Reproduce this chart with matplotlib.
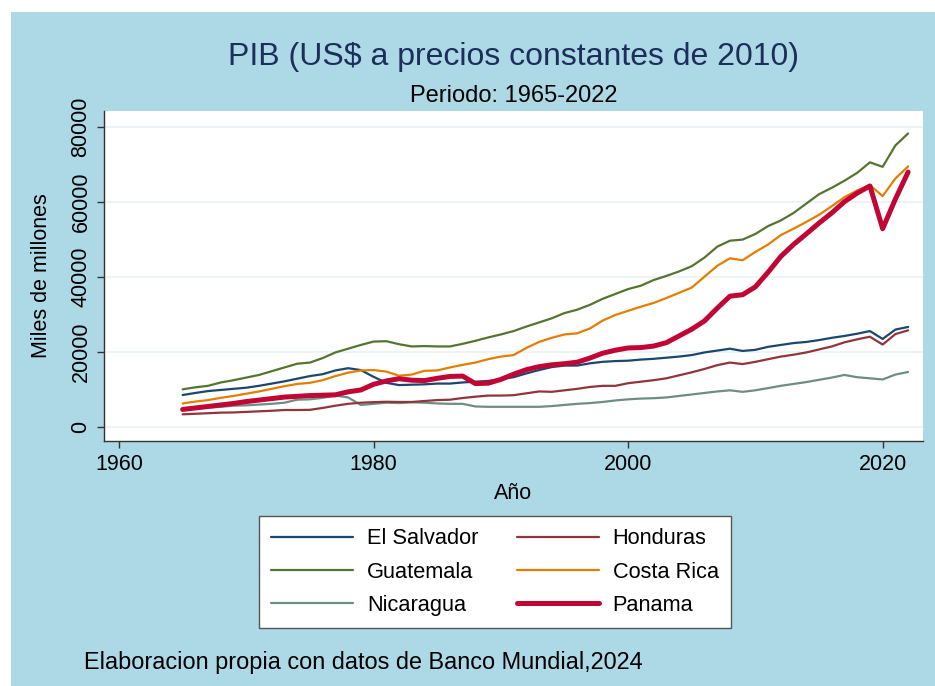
import matplotlib
matplotlib.use("Agg")
import matplotlib.pyplot as plt
from matplotlib.patches import Rectangle

plt.rcParams['font.family'] = ['Liberation Sans', 'DejaVu Sans']

years = list(range(1965, 2023))

el_salvador = [8450, 9000, 9500, 9800, 10100, 10400, 10900, 11500, 12100, 12800,
               13500, 14000, 15000, 15600, 15100, 13300, 11700, 11100, 11200, 11300,
               11500, 11500, 11800, 12000, 12200, 12700, 13200, 14200, 15100, 15900,
               16300, 16300, 16900, 17300, 17500, 17600, 17900, 18100, 18400, 18700,
               19100, 19800, 20300, 20800, 20200, 20500, 21300, 21800, 22300, 22600,
               23100, 23700, 24200, 24800, 25500, 23400, 25900, 26600]

guatemala = [9970, 10500, 10900, 11800, 12400, 13100, 13800, 14800, 15800, 16800,
             17100, 18300, 19800, 20800, 21800, 22700, 22800, 22000, 21400, 21500,
             21400, 21400, 22100, 22900, 23800, 24600, 25500, 26700, 27800, 28900,
             30300, 31200, 32500, 34100, 35400, 36700, 37600, 39100, 40200, 41400,
             42800, 45100, 48000, 49600, 49900, 51400, 53500, 55000, 57000, 59500,
             62000, 63700, 65600, 67700, 70500, 69300, 75000, 78200]

nicaragua = [4600, 4800, 5100, 5300, 5600, 5700, 5900, 6100, 6400, 7200,
             7300, 7700, 8300, 7800, 5800, 6100, 6400, 6300, 6500, 6400,
             6200, 6100, 6100, 5400, 5300, 5300, 5300, 5300, 5300, 5500,
             5800, 6100, 6300, 6600, 7000, 7300, 7500, 7600, 7800, 8200,
             8600, 9000, 9400, 9700, 9300, 9700, 10300, 10900, 11400, 11900,
             12500, 13100, 13800, 13200, 12900, 12600, 13900, 14600]

honduras = [3300, 3450, 3600, 3750, 3800, 3950, 4100, 4250, 4450, 4450,
            4500, 5000, 5600, 6100, 6400, 6550, 6650, 6600, 6600, 6850,
            7100, 7200, 7650, 8000, 8300, 8300, 8400, 8900, 9400, 9300,
            9700, 10100, 10600, 10900, 10900, 11600, 12000, 12400, 12900, 13700,
            14500, 15400, 16400, 17100, 16700, 17300, 18000, 18700, 19200, 19800,
            20600, 21400, 22500, 23300, 24000, 21900, 24700, 25700]

costa_rica = [6200, 6700, 7100, 7700, 8200, 8800, 9400, 10100, 10800, 11400,
              11700, 12400, 13500, 14400, 15000, 15100, 14700, 13600, 13900, 14900,
              15000, 15800, 16500, 17100, 18000, 18700, 19100, 21000, 22600, 23700,
              24600, 24900, 26200, 28300, 29800, 30900, 32000, 33000, 34300, 35700,
              37100, 40000, 42900, 44900, 44400, 46600, 48600, 51100, 52800, 54600,
              56500, 58800, 61200, 63000, 64400, 61500, 66200, 69400]

panama = [4600, 5000, 5400, 5800, 6200, 6700, 7100, 7500, 7900, 8100,
          8300, 8400, 8500, 9300, 9800, 11300, 12200, 12800, 12400, 12300,
          12900, 13400, 13500, 11500, 11600, 12600, 14000, 15200, 16000, 16500,
          16800, 17200, 18300, 19600, 20400, 21000, 21100, 21500, 22400, 24200,
          26000, 28200, 31600, 34800, 35200, 37300, 41200, 45400, 48600, 51400,
          54300, 57000, 60000, 62300, 64200, 52800, 60700, 67900]

series = [
    ("El Salvador", el_salvador, "#1A476F", 1.6),
    ("Guatemala", guatemala, "#55752F", 1.6),
    ("Nicaragua", nicaragua, "#6E8E84", 1.6),
    ("Honduras", honduras, "#90353B", 1.6),
    ("Costa Rica", costa_rica, "#E37E00", 1.6),
    ("Panama", panama, "#C10534", 3.6),
]

W, H = 935, 686
fig = plt.figure(figsize=(W / 100, H / 100), dpi=100, facecolor="white")
fig.patches.append(Rectangle((11 / W, 0), 1 - 11 / W, 1 - 12 / H,
                             transform=fig.transFigure, facecolor="#ADD8E6",
                             edgecolor="none", zorder=-10))

ax = fig.add_axes([104 / W, 1 - 441 / H, (923 - 104) / W, (441 - 111) / H])
ax.set_zorder(2)
ax.set_facecolor("white")

handles = []
for name, vals, col, lw in series:
    h, = ax.plot(years, vals, color=col, lw=lw, label=name,
                 solid_joinstyle="round", solid_capstyle="round", zorder=3)
    handles.append(h)

ax.set_xlim(1958.82, 2023.17)
ax.set_ylim(-3813, 84187)
ax.set_xticks([1960, 1980, 2000, 2020])
ax.set_yticks([0, 20000, 40000, 60000, 80000])
ax.grid(axis="y", color="#EAF2F3", lw=1.2, zorder=1)
ax.grid(axis="x", visible=False)
for s in ["top", "right"]:
    ax.spines[s].set_visible(False)
for s in ["left", "bottom"]:
    ax.spines[s].set_color("#333333")
    ax.spines[s].set_linewidth(1.0)
ax.tick_params(axis="both", labelsize=15.5, length=5, width=1, color="#333333",
               direction="out", pad=4)
for lab in ax.get_yticklabels():
    lab.set_rotation(90)
    lab.set_va("center")
ax.set_ylabel("Miles de millones", fontsize=15.5)
ax.yaxis.set_label_coords((52 - 104) / (923 - 104), 0.5)
ax.set_xlabel("Año", fontsize=15.5, labelpad=6)

cx = (104 + 923) / 2 / W
fig.text(cx, 1 - 57 / H, "PIB (US$ a precios constantes de 2010)", ha="center",
         va="center", fontsize=23, color="#1C2E5A")
fig.text(cx, 1 - 96 / H, "Periodo: 1965-2022", ha="center", va="center",
         fontsize=17, color="black")

leg = fig.legend(handles=handles, labels=[s[0] for s in series], ncol=2,
                 loc="center", bbox_to_anchor=((254 + 736) / 2 / W, 1 - 572 / H),
                 fontsize=15.7, frameon=True, fancybox=False, edgecolor="#555555",
                 framealpha=1, facecolor="white",
                 handlelength=3.76, columnspacing=1.74, labelspacing=0.56,
                 borderpad=0.55, handletextpad=0.64)
leg.get_frame().set_linewidth(1.0)

fig.text(84 / W, 1 - 662 / H, "Elaboracion propia con datos de Banco Mundial,2024",
         ha="left", va="center", fontsize=16.9)

fig.savefig("out.png", dpi=100, facecolor=fig.get_facecolor())
